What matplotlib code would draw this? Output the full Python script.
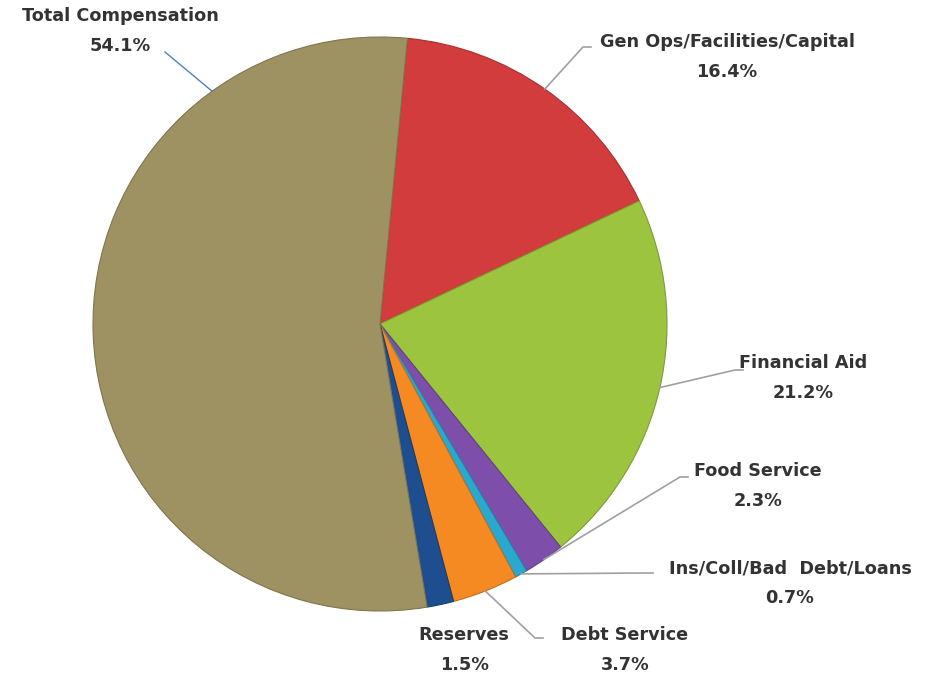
"""
Budget allocation pie chart with callout labels.
"""

import numpy as np
import matplotlib
matplotlib.use("Agg")
import matplotlib.pyplot as plt

# Data (clockwise from the top)
categories = ["Gen Ops/Facilities/Capital", "Financial Aid", "Food Service",
              "Ins/Coll/Bad  Debt/Loans", "Debt Service", "Reserves",
              "Total Compensation"]
shares = [16.4, 21.2, 2.3, 0.7, 3.7, 1.5, 54.1]
colors = ["#D23C3C", "#9CC43E", "#7D4FAA", "#2AA9CF", "#F58A22", "#1E4E8F",
          "#9E9262"]

# Layout in pixel units (y measured from the bottom)
W, H = 936, 679
center = (380, H - 324)
radius = 287
start_angle = 84.5

# text centre, knee of leader, leader angle override
label_pos = {
    "Gen Ops/Facilities/Capital": ((727, 57), (583, 47), None),
    "Financial Aid": ((803, 378), (735, 370), None),
    "Food Service": ((758, 486), (680, 477), None),
    "Ins/Coll/Bad  Debt/Loans": ((790, 583), (645, 573), None),
    "Debt Service": ((625, 650), (535, 638), None),
    "Reserves": ((464, 650), None, None),
    "Total Compensation": ((120, 31), None, 125.8),
}

fig = plt.figure(figsize=(W / 100, H / 100), dpi=100)
ax = fig.add_axes([0, 0, 1, 1])

wedges, _ = ax.pie(shares, colors=colors, startangle=start_angle,
                   counterclock=False, center=center, radius=radius,
                   wedgeprops=dict(linewidth=0.8))

ax.set_xlim(0, W)
ax.set_ylim(0, H)
ax.set_aspect("equal")
ax.axis("off")

# darker outline for each wedge
for w, c in zip(wedges, colors):
    w.set_edgecolor(tuple(np.array(matplotlib.colors.to_rgb(c)) * 0.8))

text_color = "#333333"
for w, name, val in zip(wedges, categories, shares):
    (tx, ty), knee, override = label_pos[name]
    ty = H - ty
    ax.text(tx, ty, f"{name}\n{val}%", ha="center", va="center",
            fontsize=12.7, fontweight="bold", color=text_color,
            linespacing=1.8)

    ang = override if override is not None else (w.theta1 + w.theta2) / 2
    ex = center[0] + radius * np.cos(np.radians(ang))
    ey = center[1] + radius * np.sin(np.radians(ang))
    if name == "Total Compensation":
        ax.plot([ex, 165], [ey, H - 52], color="#4F7FBF", linewidth=1)
    elif knee is not None:
        kx, ky = knee[0], H - knee[1]
        ax.plot([ex, kx, kx + 8], [ey, ky, ky], color="#A0A0A0", linewidth=1.2)

fig.savefig("out.png", dpi=100)
